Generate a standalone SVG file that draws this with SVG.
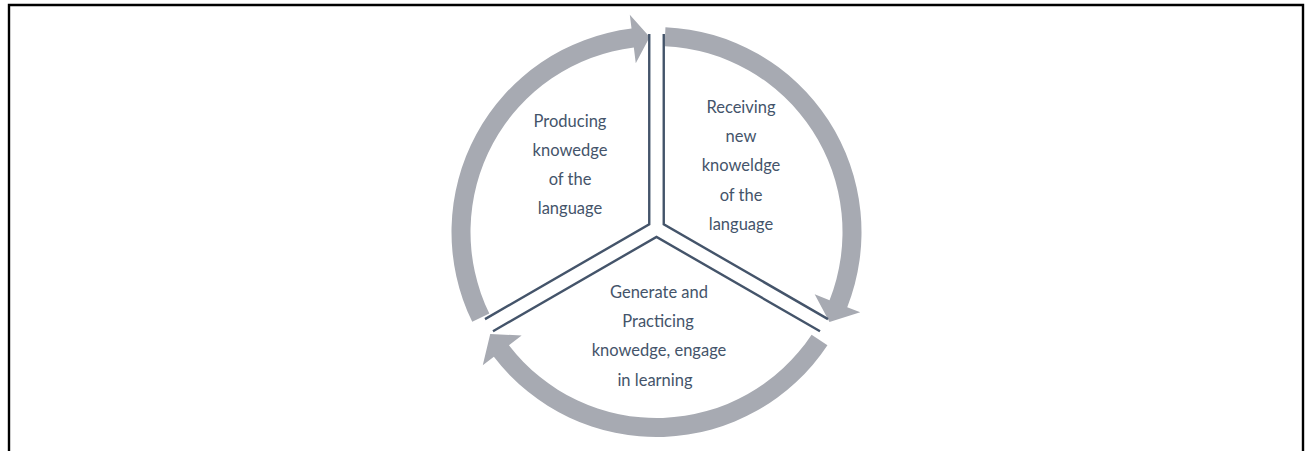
<svg xmlns="http://www.w3.org/2000/svg" width="1309" height="451" viewBox="0 0 1309 451">
  <style>
    .frame { fill: none; stroke: #000; stroke-width: 2.4; }
    .band { fill: #A7AAB2; }
    .edge { fill: none; stroke: #44546A; stroke-width: 2.4; stroke-linejoin: miter; }
    .label { font-family: Lato, "Open Sans", sans-serif; font-size: 16.5px; fill: #44546A; text-anchor: middle; }
  </style>

  <!-- page frame, open at the bottom -->
  <path class="frame" d="M9,451 V5 H1303 V451"/>

  <!-- curved block arrows running clockwise round the cycle -->
  <g id="connectors">
    <path class="band" d="M472.25,321.87 A205,205 0 0 1 631.52,28.53 L629.81,14.63 L649.69,37.12 L635.78,63.27 L633.83,47.39 A186,186 0 0 0 489.33,313.54 Z"/>
    <path class="band" d="M665.44,27.19 A205,205 0 0 1 847.24,307.13 L860.26,312.26 L829.47,322.04 L814.67,294.31 L829.56,300.17 A186,186 0 0 0 664.61,46.18 Z"/>
    <path class="band" d="M827.45,345.15 A205,205 0 0 1 493.86,356.80 L482.76,365.32 L490.24,333.89 L521.63,335.49 L508.94,345.23 A186,186 0 0 0 811.60,334.66 Z"/>
  </g>

  <g id="producing">
    <path class="edge" d="M649.25,34 V224.3 L485,319.1"/>
    <text class="label" x="570" y="127">Producing</text>
    <text class="label" x="570" y="156">knowedge</text>
    <text class="label" x="570" y="185">of the</text>
    <text class="label" x="570" y="214">language</text>
  </g>

  <g id="receiving">
    <path class="edge" d="M663.75,34 V224.3 L828,319.1"/>
    <text class="label" x="741" y="113">Receiving</text>
    <text class="label" x="741" y="142">new</text>
    <text class="label" x="741" y="171">knoweldge</text>
    <text class="label" x="741" y="201">of the</text>
    <text class="label" x="741" y="230">language</text>
  </g>

  <g id="practicing">
    <path class="edge" d="M493,331.3 L656.5,236.9 L820,331.3"/>
    <text class="label" x="659" y="298">Generate and</text>
    <text class="label" x="658" y="327">Practicing</text>
    <text class="label" x="659" y="356">knowedge, engage</text>
    <text class="label" x="655" y="386">in learning</text>
  </g>
</svg>
